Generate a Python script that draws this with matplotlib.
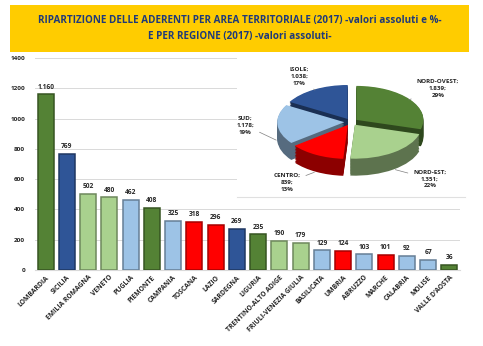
import matplotlib
matplotlib.use("Agg")
import matplotlib.pyplot as plt
from matplotlib.patches import Rectangle
import matplotlib.colors as mcolors
import numpy as np

plt.rcParams['font.family'] = ['Open Sans', 'DejaVu Sans']

# bar data
regions = ["LOMBARDIA", "SICILIA", "EMILIA ROMAGNA", "VENETO", "PUGLIA", "PIEMONTE",
           "CAMPANIA", "TOSCANA", "LAZIO", "SARDEGNA", "LIGURIA", "TRENTINO-ALTO ADIGE",
           "FRIULI-VENEZIA GIULIA", "BASILICATA", "UMBRIA", "ABRUZZO", "MARCHE",
           "CALABRIA", "MOLISE", "VALLE D'AOSTA"]
values = [1160, 769, 502, 480, 462, 408, 325, 318, 296, 269, 235, 190, 179,
          129, 124, 103, 101, 92, 67, 36]
areas = ["NO", "IS", "NE", "NE", "SU", "NO", "SU", "CE", "CE", "IS", "NO", "NE", "NE",
         "SU", "CE", "SU", "CE", "SU", "SU", "NO"]

# pie data
pie_labels = ["NORD-OVEST", "NORD-EST", "CENTRO", "SUD", "ISOLE"]
pie_keys = ["NO", "NE", "CE", "SU", "IS"]
pie_values = [1839, 1351, 839, 1178, 1038]

area_colors = {"NO": "#548235", "NE": "#A9D18E", "CE": "#FF0000",
               "SU": "#9DC3E6", "IS": "#2F5597"}


def darker(c, f):
    r, g, b = mcolors.to_rgb(c)
    return (r * f, g * f, b * f)


def it_num(v):
    return f"{v:,}".replace(",", ".")


fig = plt.figure(figsize=(4.83, 3.46), dpi=100)

# title box
fig.patches.append(Rectangle((10 / 483, 1 - 52 / 346), 459 / 483, 47 / 346,
                             transform=fig.transFigure, facecolor="#FFCC00",
                             edgecolor="none", zorder=0))
fig.text(0.497, 1 - 28.5 / 346,
         "RIPARTIZIONE DELLE ADERENTI PER AREA TERRITORIALE (2017) -valori assoluti e %-\n"
         "E PER REGIONE (2017) -valori assoluti-",
         ha="center", va="center", fontsize=7.15, fontweight="bold",
         color="#1F3A7A", linespacing=1.5)

# bar chart
ax = fig.add_axes([35 / 483, 1 - 270 / 346, 425 / 483, 212 / 346])
x = np.arange(len(regions))
cols = [area_colors[a] for a in areas]
ax.bar(x, values, width=0.76, color=cols,
       edgecolor=[darker(c, 0.65) for c in cols], linewidth=1.1, zorder=3)
for xi, v in zip(x, values):
    ax.text(xi, v + 25, it_num(v), ha="center", va="bottom", fontsize=4.8,
            fontweight="bold", color="#262626")
ax.set_xlim(-0.5, len(regions) - 0.5)
ax.set_ylim(0, 1400)
ax.set_yticks(range(0, 1401, 200))
ax.yaxis.grid(True, color="#D9D9D9", linewidth=0.7, zorder=0)
for s in ax.spines.values():
    s.set_visible(False)
ax.spines["bottom"].set_visible(True)
ax.spines["bottom"].set_color("#D9D9D9")
ax.tick_params(axis="both", length=0, labelsize=4.6, colors="#262626")
ax.tick_params(axis="y", pad=7)
ax.tick_params(axis="x", pad=3)
ax.set_xticks(x)
ax.set_xticklabels(regions, rotation=45, ha="right", rotation_mode="anchor",
                   fontsize=4.9)
for t in ax.get_xticklabels() + ax.get_yticklabels():
    t.set_fontweight("bold")

# pie chart (pseudo 3D)
pax = fig.add_axes([237 / 483, 1 - 197 / 346, 228 / 483, 142 / 346])
pax.set_facecolor("white")
pcols = [area_colors[k] for k in pie_keys]
explode = [0.1] * len(pie_values)
depth = 0.5
cy = 0.12
for d in np.linspace(depth, 0.02, 12):
    pax.pie(pie_values, colors=[darker(c, 0.55) for c in pcols], startangle=90,
            counterclock=False, explode=explode, center=(0, cy - d),
            wedgeprops=dict(linewidth=0))
wedges, _ = pax.pie(pie_values, colors=pcols, startangle=90, counterclock=False,
                    explode=explode, center=(0, cy), wedgeprops=dict(linewidth=0))
pax.set_aspect("auto")
pax.set_xlim(-1.70, 1.70)
pax.set_ylim(-2.09, 2.09)
pax.set_frame_on(True)
for s in pax.spines.values():
    s.set_visible(False)
pax.spines["bottom"].set_visible(True)
pax.spines["bottom"].set_color("#E0E0E0")

total = sum(pie_values)
label_dist = [1.62, 2.05, 2.03, 1.58, 1.55]
for w, lab, v, r in zip(wedges, pie_labels, pie_values, label_dist):
    ang = np.deg2rad((w.theta1 + w.theta2) / 2)
    ca, sa = np.cos(ang), np.sin(ang)
    ex, ey = 1.08 * ca, 1.08 * sa + cy - (depth if sa < 0 else 0)
    lx, ly = r * ca, r * sa + cy
    pct = round(v / total * 100)
    pax.annotate(f"{lab};\n{it_num(v)};\n{pct}%", xy=(ex, ey), xytext=(lx, ly),
                 ha="center", va="center", fontsize=4.5, fontweight="bold",
                 color="#262626", linespacing=1.5,
                 arrowprops=dict(arrowstyle="-", color="#7F7F7F", lw=0.5))

fig.savefig("out.png", dpi=100)
